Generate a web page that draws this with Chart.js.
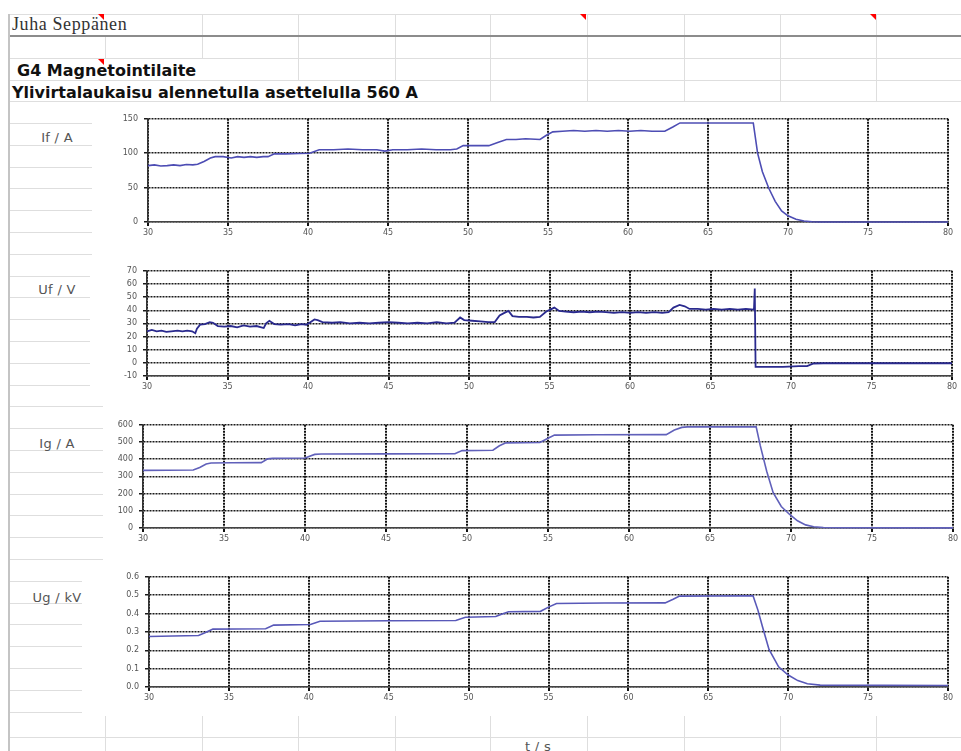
<!DOCTYPE html>
<html>
<head>
<meta charset="utf-8">
<script src="https://cdn.jsdelivr.net/npm/chart.js@4.4.1/dist/chart.umd.min.js"></script>
<style>
  body { margin: 0; background: #fff; }
  #sheet { position: relative; width: 961px; height: 751px; overflow: hidden; background: #fff; }
  .txt { position: absolute; white-space: nowrap; line-height: 1; }
  .name { left: 12px; font: 18px "Liberation Serif", serif; letter-spacing: 0.6px; color: #333; line-height: 18px; }
  .title { font: bold 16px "DejaVu Sans", sans-serif; color: #111; }
  .qty { left: 10px; width: 94px; text-align: center; font: 13px "DejaVu Sans", sans-serif; letter-spacing: 0.3px; color: #555; }
  .note { position: absolute; width: 0; height: 0; border-top: 6px solid #f00; border-left: 6px solid transparent; }
  canvas { position: absolute; }
</style>
</head>
<body>
<div id="sheet"></div>
<script>
// measurement data, time axis in seconds
const timeTicks = [30, 35, 40, 45, 50, 55, 60, 65, 70, 75, 80];
const ifTicks = [0, 50, 100, 150];
const ufTicks = [-10, 0, 10, 20, 30, 40, 50, 60, 70];
const igTicks = [0, 100, 200, 300, 400, 500, 600];
const ugTicks = [0, 0.1, 0.2, 0.3, 0.4, 0.5, 0.6];

// field current If / A
const ifTime = [30, 30.4, 30.8, 31.2, 31.6, 32.0, 32.4, 32.8, 33.1, 33.5, 33.9, 34.2, 34.7, 35.2, 35.6, 36.0, 36.4, 36.8, 37.2, 37.5, 37.9,
  38.6, 39.4, 40.1, 40.7, 41.6, 42.5, 43.4, 44.3, 44.8, 45.3, 46.2, 47.1, 48.0, 48.9, 49.3, 49.7, 50.4, 51.3, 51.9, 52.4,
  53.0, 53.6, 54.5, 54.9, 55.3, 55.9, 56.6, 57.3, 58.0, 58.7, 59.4, 60.1, 60.8, 61.5, 62.3, 62.8, 63.25,
  64, 65, 66, 67, 67.83, 68.1, 68.4, 68.8, 69.2, 69.6, 70.0, 70.5, 71.0, 71.5, 72.0, 80];
const ifAmp = [82, 83, 81.5, 82, 83, 82, 83.5, 83, 84, 88, 93, 95, 95, 93, 95, 94, 95, 94, 95, 95, 99,
  99, 99.5, 100, 105, 105, 106, 105, 105, 103, 105, 105, 106, 105, 105, 106, 111, 111, 111, 116, 120,
  120, 121, 120, 126, 131, 132, 133, 132, 133, 132, 133, 132, 133, 132, 132, 138, 144,
  144, 144, 144, 144, 144, 100, 73, 49, 30, 16, 9, 4, 1.5, 0.3, 0, 0];

// field voltage Uf / V
const ufTime = [30, 30.3, 30.6, 30.9, 31.2, 31.5, 31.9, 32.2, 32.5, 32.8, 33.0, 33.1, 33.3, 33.6, 33.9, 34.1, 34.4, 34.8,
  35.2, 35.6, 36.0, 36.4, 36.8, 37.1, 37.25, 37.4, 37.6, 37.9, 38.3, 38.8, 39.2, 39.6, 39.9, 40.1, 40.4, 40.6, 40.9,
  41.5, 42.0, 42.6, 43.2, 43.8, 44.4, 45.0, 45.6, 46.2, 46.8, 47.4, 48.0, 48.6, 49.1,
  49.45, 49.7, 50.2, 50.7, 51.2, 51.6, 51.9, 52.2, 52.45, 52.7, 53.1, 53.6, 54.0, 54.4, 54.8, 55.05, 55.3, 55.6,
  56.0, 56.5, 57.0, 57.5, 58.0, 58.5, 59.0, 59.5, 60.0, 60.5, 61.0, 61.5, 62.0, 62.4, 62.7, 63.08, 63.4, 63.7,
  64.2, 64.7, 65.2, 65.7, 66.2, 66.7, 67.2, 67.7, 67.75, 67.8, 68.5, 69.5, 70.5, 71.0, 71.4, 72.0, 80];
const ufVolt = [24, 25, 24, 24.5, 23.5, 24, 24.5, 24, 24.5, 24, 22.5, 26, 29, 29.5, 31, 30.5, 28, 27.5,
  28, 27, 28.5, 27.5, 28, 27, 26.5, 30, 32, 29.5, 29, 29.5, 28.5, 29.5, 29, 30.5, 33, 32.5, 31,
  30.5, 31, 30, 30.5, 30, 30.5, 31, 30.5, 30, 30.5, 30, 31, 30, 30.5,
  34.5, 32.5, 32, 31.5, 31, 31, 36, 38, 39.5, 35.5, 35, 35, 34.5, 35, 39, 40.5, 42, 39.5,
  39, 38.5, 39, 38.5, 39, 38.5, 38, 38.5, 38, 38.5, 38, 38.5, 38, 38.5, 42, 44, 43, 41,
  41, 40.5, 41, 40.5, 41, 40.5, 41, 40.5, 56.5, -3, -3, -3, -2.5, -2.5, -0.5, -0.3, -0.3];

// stator current Ig / A
const igTime = [30, 31.5, 33.1, 33.5, 33.9, 34.2, 35.5, 37.3, 37.7, 38.0, 40.0, 40.6, 41.0, 45.0, 49.25, 49.7, 51.6, 52.0, 52.4,
  54.5, 55.0, 55.4, 58.0, 62.3, 62.8, 63.26, 63.6, 67.85, 68.1, 68.5, 68.9, 69.4, 69.9, 70.4, 70.9, 71.4, 72.0, 73.0, 80];
const igAmp = [335, 336, 337, 352, 372, 378, 379, 380, 402, 405, 407, 428, 430, 431, 432, 450, 452, 478, 495,
  497, 522, 540, 542, 543, 570, 585, 588, 588, 480, 330, 205, 125, 80, 42, 18, 7, 3, 1.5, 1];

// stator voltage Ug / kV
const ugTime = [30, 31.5, 33.1, 33.5, 34.0, 35.5, 37.3, 37.8, 40.1, 40.7, 45.0, 49.2, 49.8, 51.7, 52.1, 52.5,
  54.5, 55.0, 55.5, 58.5, 62.3, 62.8, 63.2, 67.8, 68.1, 68.4, 68.8, 69.4, 70.0, 70.6, 71.2, 72.0, 80];
const ugKv = [0.275, 0.278, 0.28, 0.295, 0.315, 0.316, 0.317, 0.337, 0.34, 0.358, 0.361, 0.362, 0.38, 0.384, 0.398, 0.41,
  0.412, 0.435, 0.455, 0.457, 0.458, 0.478, 0.495, 0.497, 0.42, 0.325, 0.205, 0.11, 0.065, 0.035, 0.018, 0.01, 0.008];

const sheet = document.getElementById('sheet');

function rect(x, y, w, h, color) {
  const d = document.createElement('div');
  d.style.cssText = `position:absolute;left:${x}px;top:${y}px;width:${w}px;height:${h}px;background:${color}`;
  sheet.appendChild(d);
  return d;
}
function text(cls, str, x, y) {
  const d = document.createElement('div');
  d.className = 'txt ' + cls;
  d.textContent = str;
  if (x !== null) d.style.left = x + 'px';
  d.style.top = y + 'px';
  sheet.appendChild(d);
  return d;
}

// worksheet grid
const gridGray = '#dedede';
const cols = [105, 202, 298, 395, 490, 587, 684, 780, 876];
rect(9, 14, 952, 1, gridGray);
rect(9, 35, 952, 2, '#8c8c8c');
rect(9, 58, 952, 1, gridGray);
rect(9, 80, 952, 1, gridGray);
rect(9, 101, 952, 1, gridGray);
cols.forEach(x => {
  if (x > 105) rect(x, 14, 1, 21, gridGray);   // row 1
  rect(x, 37, 1, 21, gridGray);                 // row 2
  if (x > 202) rect(x, 58, 1, 22, gridGray);    // row 3
  if (x > 395) rect(x, 80, 1, 21, gridGray);    // row 4
  rect(x, 716, 1, 35, gridGray);                // below the charts
});
for (let y = 123; y < 716; y += 21.8) rect(9, Math.round(y), 100, 1, gridGray);
rect(9, 737, 952, 1, gridGray);
rect(8, 14, 2, 737, '#c4c4c4');

// comment markers
[[98, 14], [98, 59], [580, 14], [870, 14]].forEach(([x, y]) => {
  const n = document.createElement('div');
  n.className = 'note';
  n.style.left = x + 'px';
  n.style.top = y + 'px';
  sheet.appendChild(n);
});

text('name', 'Juha Seppänen', null, 15);
text('title', 'G4 Magnetointilaite', 17, 61);
text('title', 'Ylivirtalaukaisu alennetulla asettelulla 560 A', 12, 83);
text('qty', 't / s', null, 739).style.left = '491px';

// chart objects (white frames) and their plot rectangles
const panels = [
  { box: [92, 103, 869, 152], plot: { l: 148, r: 948, t: 118, b: 222 }, label: 'If / A', labelTop: 130,
    time: ifTime, values: ifAmp, ticks: ifTicks, color: '#4d4db4', width: 1.6, fmt: v => String(v) },
  { box: [90, 255, 871, 151], plot: { l: 147, r: 952, t: 270, b: 376 }, label: 'Uf / V', labelTop: 282,
    time: ufTime, values: ufVolt, ticks: ufTicks, color: '#2a2a8e', width: 1.8, fmt: v => String(v) },
  { box: [103, 406, 858, 154], plot: { l: 143, r: 953, t: 424, b: 528 }, label: 'Ig / A', labelTop: 436,
    time: igTime, values: igAmp, ticks: igTicks, color: '#6060ba', width: 1.6, fmt: v => String(v) },
  { box: [82, 560, 879, 156], plot: { l: 149, r: 948, t: 576, b: 687 }, label: 'Ug / kV', labelTop: 590,
    time: ugTime, values: ugKv, ticks: ugTicks, color: '#5858b8', width: 1.6, fmt: v => v.toFixed(1) }
];

const AXIS_W = 50, AXIS_H = 22, PAD_T = 10, PAD_R = 14;
const tickFont = { family: 'DejaVu Sans', size: 8 };

panels.forEach(p => {
  const [bx, by, bw, bh] = p.box;
  rect(bx, by, bw, bh, '#fff');
  text('qty', p.label, null, p.labelTop);

  const c = document.createElement('canvas');
  const w = (p.plot.r - p.plot.l) + AXIS_W + PAD_R;
  const h = (p.plot.b - p.plot.t) + PAD_T + AXIS_H;
  c.width = w;
  c.height = h;
  c.style.left = (p.plot.l - AXIS_W) + 'px';
  c.style.top = (p.plot.t - PAD_T) + 'px';
  sheet.appendChild(c);

  new Chart(c.getContext('2d'), {
    type: 'line',
    data: {
      datasets: [{
        data: p.time.map((t, i) => ({ x: t, y: p.values[i] })),
        borderColor: p.color,
        borderWidth: p.width,
        pointRadius: 0,
        tension: 0,
        fill: false,
        clip: 4
      }]
    },
    options: {
      animation: false,
      responsive: false,
      devicePixelRatio: 1,
      layout: { padding: { left: 0, top: PAD_T, right: PAD_R, bottom: 0 } },
      plugins: { legend: { display: false }, tooltip: { enabled: false } },
      scales: {
        x: {
          type: 'linear',
          min: timeTicks[0],
          max: timeTicks[timeTicks.length - 1],
          afterBuildTicks: s => { s.ticks = timeTicks.map(v => ({ value: v })); },
          afterFit: s => { s.height = AXIS_H; },
          grid: { color: '#111', lineWidth: 2, tickLength: 4 },
          border: { color: '#444', width: 1.5, dash: [2, 1] },
          ticks: { font: tickFont, color: '#555', padding: 2, maxRotation: 0, autoSkip: false }
        },
        y: {
          type: 'linear',
          min: p.ticks[0],
          max: p.ticks[p.ticks.length - 1],
          afterBuildTicks: s => { s.ticks = p.ticks.map(v => ({ value: v })); },
          afterFit: s => { s.width = AXIS_W; },
          grid: { color: '#1a1a1a', lineWidth: 1.5, tickLength: 4 },
          border: { color: '#333', width: 1.5, dash: [2, 1] },
          ticks: { font: tickFont, color: '#555', padding: 6, autoSkip: false, callback: v => p.fmt(v) }
        }
      }
    }
  });
});
</script>
</body>
</html>
